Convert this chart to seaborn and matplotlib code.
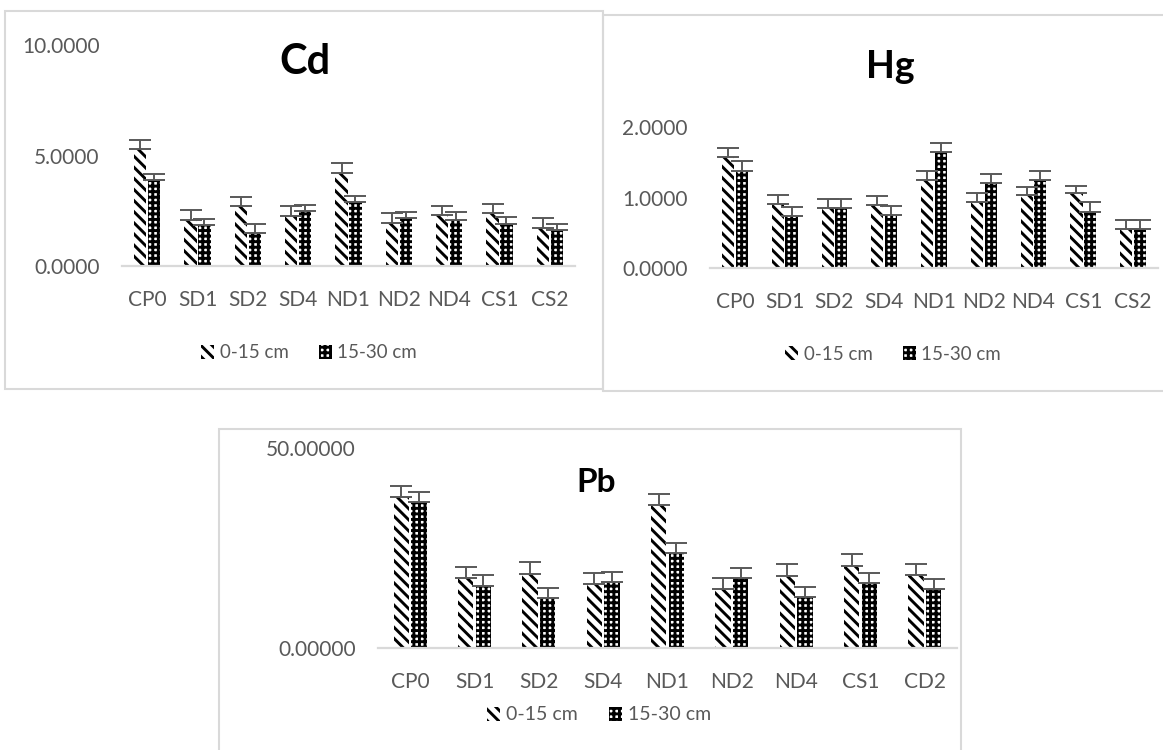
import numpy as np
import pandas as pd
import seaborn as sns
import matplotlib.pyplot as plt
from matplotlib.patches import Patch, Rectangle
from matplotlib.lines import Line2D
from matplotlib.ticker import FormatStrFormatter, FixedLocator

# ---- data ----
sites = ['CP0', 'SD1', 'SD2', 'SD4', 'ND1', 'ND2', 'ND4', 'CS1', 'CS2']
sites_pb = ['CP0', 'SD1', 'SD2', 'SD4', 'ND1', 'ND2', 'ND4', 'CS1', 'CD2']
depths = ['0-15 cm', '15-30 cm']

cd_top = [5.30, 2.07, 2.70, 2.25, 4.20, 1.95, 2.30, 2.40, 1.70]
cd_sub = [3.90, 1.85, 1.50, 2.50, 2.90, 2.15, 2.10, 1.90, 1.65]
cd_top_err = [0.40, 0.45, 0.42, 0.45, 0.45, 0.45, 0.40, 0.40, 0.48]
cd_sub_err = [0.25, 0.27, 0.38, 0.27, 0.27, 0.30, 0.35, 0.32, 0.27]

hg_top = [1.58, 0.91, 0.85, 0.90, 1.25, 0.94, 1.04, 1.07, 0.55]
hg_sub = [1.38, 0.74, 0.85, 0.75, 1.65, 1.20, 1.25, 0.80, 0.55]
hg_top_err = [0.12, 0.13, 0.13, 0.12, 0.13, 0.12, 0.11, 0.10, 0.13]
hg_sub_err = [0.14, 0.13, 0.13, 0.13, 0.13, 0.13, 0.13, 0.13, 0.13]

pb_top = [37.7, 17.4, 18.6, 16.0, 35.8, 14.8, 18.0, 20.5, 18.3]
pb_sub = [36.4, 15.6, 12.4, 16.6, 23.7, 17.4, 12.8, 16.3, 14.7]
pb_top_err = [2.8, 2.9, 2.8, 2.8, 2.8, 2.8, 2.9, 2.9, 2.7]
pb_sub_err = [2.6, 2.6, 2.7, 2.5, 2.5, 2.7, 2.5, 2.5, 2.5]

sns.set_style('white')
plt.rcParams['font.family'] = ['Lato', 'DejaVu Sans']
plt.rcParams['hatch.linewidth'] = 2.1

W, H = 1163, 750
fig = plt.figure(figsize=(W / 100, H / 100), dpi=100)

GREY = '#595959'
LINE = '#d9d9d9'
HATCHES = ['\\' * 3, '+' * 3]


def px_axes(x0, x1, ytop, ybot):
    return fig.add_axes([x0 / W, 1 - ybot / H, (x1 - x0) / W, (ybot - ytop) / H])


def draw_panel(ax, labels, top, sub, top_err, sub_err, ymax, fmt, minor=False):
    df = pd.DataFrame({
        'site': labels * 2,
        'value': top + sub,
        'depth': [depths[0]] * len(labels) + [depths[1]] * len(labels),
    })
    sns.barplot(data=df, x='site', y='value', hue='depth', order=labels,
                palette=['white', 'white'], width=0.55, gap=0.12,
                errorbar=None, legend=False, edgecolor='black', linewidth=0, ax=ax)
    for cont, hatch, err in zip(ax.containers, HATCHES, [top_err, sub_err]):
        xs, hs = [], []
        for bar in cont:
            bar.set_hatch(hatch)
            xs.append(bar.get_x() + bar.get_width() / 2)
            hs.append(bar.get_height())
        ax.errorbar(xs, hs, yerr=[np.zeros(len(err)), err], fmt='none',
                    ecolor=GREY, elinewidth=1.4, capsize=8, capthick=1.4)
    ax.set_xlim(-0.5, len(labels) - 0.5)
    ax.set_ylim(0, ymax)
    ax.set_yticks([0, ymax / 2, ymax] if ymax < 50 else [0, ymax])
    ax.yaxis.set_major_formatter(FormatStrFormatter(fmt))
    ax.set_xlabel('')
    ax.set_ylabel('')
    for s in ['top', 'left', 'right']:
        ax.spines[s].set_visible(False)
    ax.spines['bottom'].set_color(LINE)
    ax.spines['bottom'].set_linewidth(1.6)
    ax.tick_params(axis='y', length=0, pad=16, labelsize=15, labelcolor=GREY)
    ax.tick_params(axis='x', which='major', length=0, pad=17, labelsize=15,
                   labelcolor=GREY)
    if minor:
        ax.xaxis.set_minor_locator(FixedLocator(np.arange(-0.5, len(labels), 1.0)))
        ax.tick_params(axis='x', which='minor', length=6, width=1.4, color=LINE)
    ax.patch.set_alpha(0)


def add_legend(xc, yc, size):
    handles = [Patch(facecolor='white', edgecolor='black', linewidth=0, hatch=h)
               for h in HATCHES]
    fig.legend(handles, depths, loc='center', bbox_to_anchor=(xc / W, 1 - yc / H),
               ncol=2, frameon=False, fontsize=size, labelcolor=GREY,
               handlelength=0.7, handleheight=0.7, handletextpad=0.3,
               columnspacing=1.6)


# panel frames
fig.add_artist(Rectangle((5 / W, 1 - 389 / H), 598 / W, 378 / H, transform=fig.transFigure,
                         fill=False, edgecolor=LINE, linewidth=1.5))
fig.add_artist(Line2D([603 / W, 1], [1 - 15 / H, 1 - 15 / H], transform=fig.transFigure,
                      color=LINE, linewidth=1.5))
fig.add_artist(Line2D([603 / W, 1], [1 - 391 / H, 1 - 391 / H], transform=fig.transFigure,
                      color=LINE, linewidth=1.5))
fig.add_artist(Line2D([603 / W, 603 / W], [1 - 391 / H, 1 - 15 / H], transform=fig.transFigure,
                      color=LINE, linewidth=1.5))
fig.add_artist(Rectangle((219 / W, -0.01), 742 / W, 1 - 429 / H + 0.01,
                         transform=fig.transFigure, fill=False, edgecolor=LINE, linewidth=1.5))

# Cd
ax1 = px_axes(122, 575, 45, 266)
draw_panel(ax1, sites, cd_top, cd_sub, cd_top_err, cd_sub_err, 10, '%.4f', minor=True)
fig.text(305 / W, 1 - 62 / H, 'Cd', ha='center', va='center', fontsize=30,
         fontweight='bold', color='black')
add_legend(309, 353, 13.5)

# Hg
ax2 = px_axes(710, 1158, 127, 268)
draw_panel(ax2, sites, hg_top, hg_sub, hg_top_err, hg_sub_err, 2, '%.4f')
fig.text(890 / W, 1 - 67 / H, 'Hg', ha='center', va='center', fontsize=27,
         fontweight='bold', color='black')
add_legend(893, 354, 13.5)

# Pb
ax3 = px_axes(378, 957, 448, 648)
draw_panel(ax3, sites_pb, pb_top, pb_sub, pb_top_err, pb_sub_err, 50, '%.5f')
fig.text(596 / W, 1 - 482 / H, 'Pb', ha='center', va='center', fontsize=24,
         fontweight='bold', color='black')
add_legend(599, 715, 14)

fig.savefig('out.png', dpi=100, facecolor='white')
